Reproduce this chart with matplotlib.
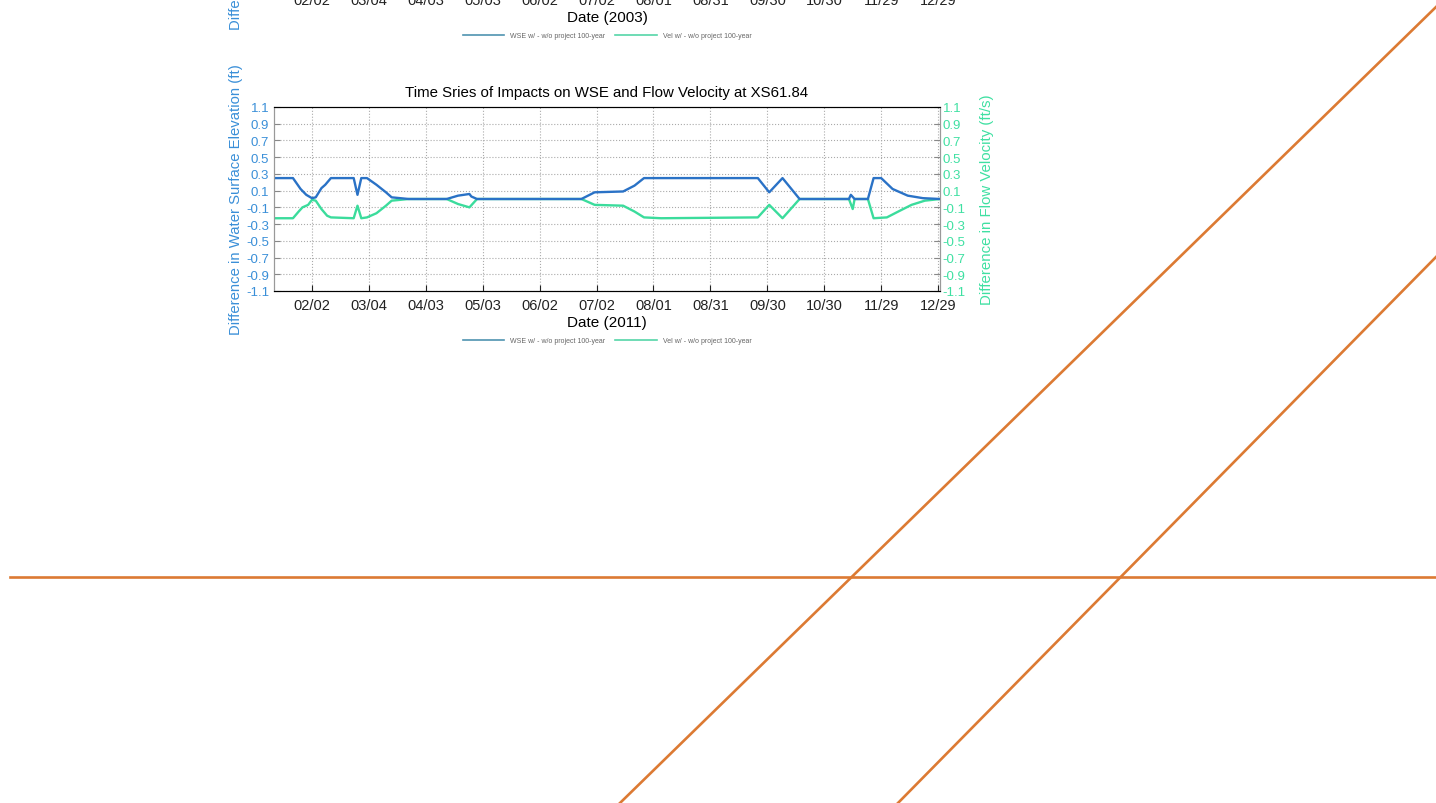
import matplotlib
matplotlib.use('Agg')
import matplotlib.pyplot as plt
import matplotlib.dates as mdates
from matplotlib.lines import Line2D
import pandas as pd

plt.rcParams['font.family'] = ['Liberation Sans', 'DejaVu Sans']

# Datos (2011, XS61.84)
wse_dates = ['2011-01-13', '2011-01-23', '2011-01-27', '2011-01-30', '2011-02-02', '2011-02-04',
             '2011-02-07', '2011-02-09', '2011-02-12', '2011-02-24', '2011-02-26', '2011-02-28',
             '2011-03-03', '2011-03-08', '2011-03-13', '2011-03-16', '2011-03-25', '2011-04-14',
             '2011-04-20', '2011-04-26', '2011-04-27', '2011-04-30', '2011-06-24', '2011-07-01',
             '2011-07-16', '2011-07-22', '2011-07-27', '2011-09-25', '2011-10-01', '2011-10-08',
             '2011-10-17', '2011-11-12', '2011-11-13', '2011-11-15', '2011-11-22', '2011-11-25',
             '2011-11-29', '2011-12-05', '2011-12-13', '2011-12-21', '2011-12-30']
wse_vals = [0.25, 0.25, 0.12, 0.05, 0.01, 0.02,
            0.13, 0.17, 0.25, 0.25, 0.05, 0.25,
            0.25, 0.17, 0.08, 0.02, 0.0, 0.0,
            0.04, 0.06, 0.03, 0.0, 0.0, 0.08,
            0.09, 0.16, 0.25, 0.25, 0.08, 0.25,
            0.0, 0.0, 0.05, 0.0, 0.0, 0.25,
            0.25, 0.12, 0.04, 0.01, 0.0]

vel_dates = ['2011-01-13', '2011-01-23', '2011-01-26', '2011-01-28', '2011-01-31', '2011-02-02',
             '2011-02-04', '2011-02-07', '2011-02-10', '2011-02-12', '2011-02-24', '2011-02-26',
             '2011-02-28', '2011-03-03', '2011-03-08', '2011-03-13', '2011-03-16', '2011-03-25',
             '2011-04-14', '2011-04-20', '2011-04-26', '2011-04-28', '2011-04-30', '2011-06-24',
             '2011-07-01', '2011-07-16', '2011-07-22', '2011-07-27', '2011-08-05', '2011-09-25',
             '2011-10-01', '2011-10-08', '2011-10-17', '2011-11-12', '2011-11-14', '2011-11-15',
             '2011-11-22', '2011-11-25', '2011-12-02', '2011-12-08', '2011-12-15', '2011-12-22',
             '2011-12-30']
vel_vals = [-0.23, -0.23, -0.15, -0.1, -0.07, -0.01,
            -0.02, -0.12, -0.2, -0.22, -0.23, -0.08,
            -0.23, -0.22, -0.17, -0.08, -0.02, 0.0,
            0.0, -0.06, -0.1, -0.05, 0.0, 0.0,
            -0.07, -0.08, -0.15, -0.22, -0.23, -0.22,
            -0.07, -0.23, 0.0, 0.0, -0.12, 0.0,
            0.0, -0.23, -0.22, -0.15, -0.07, -0.02,
            0.0]

tick_md = ['02/02', '03/04', '04/03', '05/03', '06/02', '07/02',
           '08/01', '08/31', '09/30', '10/30', '11/29', '12/29']
y_ticks = [-1.1, -0.9, -0.7, -0.5, -0.3, -0.1, 0.1, 0.3, 0.5, 0.7, 0.9, 1.1]

# Lineas naranjas sobre la pagina (coordenadas de pagina en pixeles)
orange_h_x = [10, 1436]
orange_h_y = [578, 578]
orange_d1_x = [620, 1436]
orange_d1_y = [804, 8]
orange_d2_x = [898, 1436]
orange_d2_y = [804, 258]

c_wse = '#2a72c6'
c_vel = '#3bdc9c'
c_lab_l = '#3a8fd8'
c_lab_r = '#3fe0a2'

fig = plt.figure(figsize=(14.36, 8.04), dpi=100)


def panel(rect, year, wse=None, vel=None, title=None):
    ax = fig.add_axes(rect)
    ax2 = ax.twinx()
    if wse is not None:
        ax.plot(pd.to_datetime(wse[0]), wse[1], color=c_wse, lw=1.7, zorder=3)
        ax.plot(pd.to_datetime(vel[0]), vel[1], color=c_vel, lw=1.7, zorder=2)
    ticks = pd.to_datetime([f'{year}/{t}' for t in tick_md])
    ax.set_xlim(pd.Timestamp(f'{year}-01-13'), pd.Timestamp(f'{year}-12-30'))
    ax.set_xticks(ticks)
    ax.xaxis.set_major_formatter(mdates.DateFormatter('%m/%d'))
    for a in (ax, ax2):
        a.set_ylim(-1.1, 1.1)
        a.set_yticks(y_ticks)
        a.set_yticklabels([f'{v:.1f}' for v in y_ticks])
        a.tick_params(direction='in', length=4, labelsize=9.5)
    ax.tick_params(axis='x', labelsize=10.5, colors='#222222', pad=5)
    ax.tick_params(axis='y', labelcolor=c_lab_l, color='#888888')
    ax2.tick_params(axis='y', labelcolor=c_lab_r, color='#888888', pad=2)
    ax.grid(True, linestyle=':', color='#aaaaaa', lw=0.8)
    for s in ('left', 'right'):
        ax.spines[s].set_color('#999999')
        ax2.spines[s].set_color('#999999')
    ax.spines['top'].set_color('#333333')
    ax.spines['bottom'].set_color('#333333')
    ax.set_xlabel(f'Date ({year})', fontsize=11, labelpad=2)
    ax.set_ylabel('Difference in Water Surface Elevation (ft)', color=c_lab_l, fontsize=10.7, labelpad=2)
    ax2.set_ylabel('Difference in Flow Velocity (ft/s)', color=c_lab_r, fontsize=10.8, labelpad=10)
    if title:
        ax.set_title(title, fontsize=10.8, pad=8)
    handles = [Line2D([], [], color='#4f93b0', lw=1.2),
               Line2D([], [], color='#55d6a8', lw=1.2)]
    ax.legend(handles, ['WSE w/ - w/o project 100-year', 'Vel w/ - w/o project 100-year'],
              loc='center', bbox_to_anchor=(0.5, -0.27), ncol=2, frameon=False,
              fontsize=5, handlelength=6, labelcolor='#666666', columnspacing=1.5)
    return ax


W, H = 1436, 804
# Grafico superior (2003), cortado por el borde de la pagina
panel([274 / W, 1 + 13 / H, 666 / W, 184 / H], 2003)
# Grafico inferior (2011)
panel([274 / W, 1 - 292 / H, 666 / W, 184 / H], 2011,
      wse=(wse_dates, wse_vals), vel=(vel_dates, vel_vals),
      title='Time Sries of Impacts on WSE and Flow Velocity at XS61.84')

over = fig.add_axes([0, 0, 1, 1], zorder=-1)
over.set_xlim(0, W)
over.set_ylim(H, 0)
over.axis('off')
for xs, ys in [(orange_h_x, orange_h_y), (orange_d1_x, orange_d1_y), (orange_d2_x, orange_d2_y)]:
    over.plot(xs, ys, color='#dc7a33', lw=1.9)

fig.savefig('out.png', dpi=100)
